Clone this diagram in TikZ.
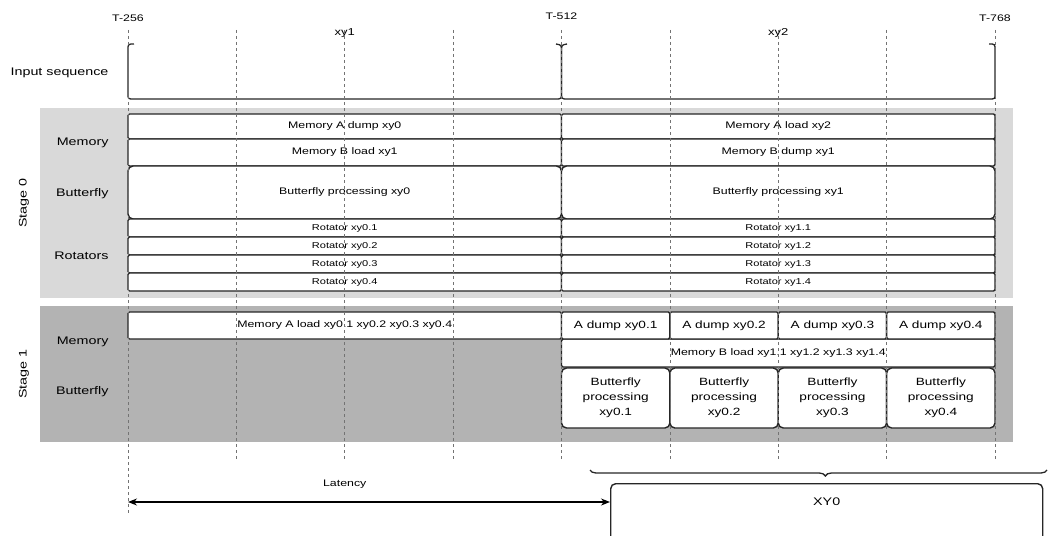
\documentclass[tikz,border=0pt]{standalone}
\usepackage{fontspec}
\setmainfont{Liberation Sans}[FakeStretch=1.3]
\usetikzlibrary{decorations.pathreplacing,arrows.meta}
\definecolor{stagelight}{HTML}{D9D9D9}
\definecolor{stagedark}{HTML}{B3B3B3}
\tikzset{
  cell/.style={draw=black!85, line width=1.4pt, fill=white, rounded corners=1.5pt,
    inner sep=0pt, font=\fontsize{9.5}{11}\selectfont},
  rotcell/.style={cell, font=\fontsize{8.5}{10}\selectfont},
  bfly/.style={cell, rounded corners=5pt, align=center, font=\fontsize{10.5}{15}\selectfont},
  rowlabel/.style={anchor=east, font=\fontsize{11}{13}\selectfont},
  stagelabel/.style={rotate=90, font=\fontsize{11}{13}\selectfont},
  timelabel/.style={font=\fontsize{9.5}{11}\selectfont},
  gridline/.style={black!55, dashed, line width=0.7pt},
  seqline/.style={black!85, line width=1.3pt},
}
\begin{document}
\begin{tikzpicture}[x=1pt, y=-1pt, >={Stealth[length=9pt,width=7pt]}]
  \useasboundingbox (0,0) rectangle (1051,535);

  % stage backgrounds
  \fill[stagelight] (40,108) rectangle (1013,298);
  \fill[stagedark] (40,306) rectangle (1013,442);

  % time marks
  \node[timelabel] (t256) at (128,18) {T-256};
  \node[timelabel] (t512) at (561.5,16) {T-512};
  \node[timelabel] (t768) at (995,18) {T-768};

  % input sequence
  \node[rowlabel] (inseq) at (112,73) {Input sequence};
  \node[timelabel, font=\fontsize{10}{12}\selectfont] (xy1) at (344.75,33) {xy1};
  \node[timelabel, font=\fontsize{10}{12}\selectfont] (xy2) at (778.25,33) {xy2};
  \draw[seqline] (134,44) .. controls (128,44) .. (128,50) -- (128,94)
    .. controls (128,99) .. (134,99) -- (555,99) .. controls (561.5,99) .. (561.5,93)
    -- (561.5,51) .. controls (561.5,45) .. (556,44);
  \draw[seqline] (567,44) .. controls (561.5,45) .. (561.5,51) -- (561.5,93)
    .. controls (561.5,99) .. (568,99) -- (989,99) .. controls (995,99) .. (995,94)
    -- (995,50) .. controls (995,44) .. (989,44);

  % stage 0
  \node[stagelabel] (st0) at (24,203) {Stage 0};
  \node[rowlabel] (mem0) at (112,143) {Memory};
  \node[rowlabel] (bf0) at (112,194) {Butterfly};
  \node[rowlabel] (rot0) at (112,256) {Rotators};

  \node[cell, minimum width=433.5, minimum height=25] (madump) at (344.75,126.5) {Memory A dump xy0};
  \node[cell, minimum width=433.5, minimum height=25] (maload) at (778.25,126.5) {Memory A load xy2};
  \node[cell, minimum width=433.5, minimum height=27] (mbload) at (344.75,152.5) {Memory B load xy1};
  \node[cell, minimum width=433.5, minimum height=27] (mbdump) at (778.25,152.5) {Memory B dump xy1};
  \node[bfly, minimum width=433.5, minimum height=53, font=\fontsize{9.5}{11}\selectfont] (bfxy0) at (344.75,192.5) {Butterfly processing xy0};
  \node[bfly, minimum width=433.5, minimum height=53, font=\fontsize{9.5}{11}\selectfont] (bfxy1) at (778.25,192.5) {Butterfly processing xy1};
  \foreach \k/\yc in {1/228,2/246,3/264,4/282}{
    \node[rotcell, minimum width=433.5, minimum height=18] (rotA\k) at (344.75,\yc) {Rotator xy0.\k};
    \node[rotcell, minimum width=433.5, minimum height=18] (rotB\k) at (778.25,\yc) {Rotator xy1.\k};
  }

  % stage 1
  \node[stagelabel] (st1) at (24,374) {Stage 1};
  \node[rowlabel] (mem1) at (112,342) {Memory};
  \node[rowlabel] (bf1) at (112,392) {Butterfly};

  \node[cell, minimum width=433.5, minimum height=27] (maloadq) at (344.75,325.5) {Memory A load xy0.1 xy0.2 xy0.3 xy0.4};
  \node[cell, minimum width=433.5, minimum height=28] (mbloadq) at (778.25,353) {Memory B load xy1.1 xy1.2 xy1.3 xy1.4};
  \foreach \k in {1,...,4}{
    \node[cell, minimum width=108.375, minimum height=27, font=\fontsize{10.5}{12}\selectfont] (adump\k) at ({561.5+(\k-0.5)*108.375},325.5) {A dump xy0.\k};
    \node[bfly, minimum width=108.375, minimum height=60] (bfq\k) at ({561.5+(\k-0.5)*108.375},398) {Butterfly\\processing\\xy0.\k};
  }

  % time grid
  \draw[gridline] (128,30) -- (128,515);
  \foreach \k in {1,...,8}
    \draw[gridline] ({128+\k*108.375},30) -- ++(0,430);

  % output and latency
  \draw[seqline, decorate, decoration={brace, mirror, amplitude=6pt, aspect=0.515}] (590,470) -- (1047,470);
  \node[bfly, minimum width=432, minimum height=62, anchor=north west,
    label={[anchor=north, yshift=-11pt, font=\fontsize{11}{13}\selectfont]north:XY0}] (xy0) at (610,483) {};
  \coordinate (latend) at (128,502);
  \draw[<->, line width=1.2pt] (latend) -- (latend -| xy0.west);
  \node[timelabel] (latency) at (344.75,484) {Latency};
\end{tikzpicture}
\end{document}
